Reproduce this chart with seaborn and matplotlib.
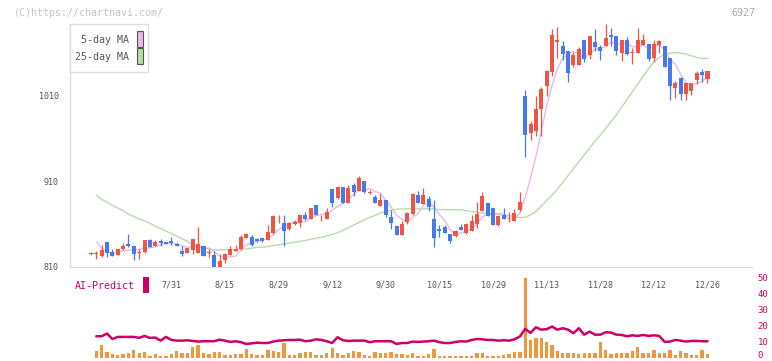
import numpy as np
import pandas as pd
import matplotlib
matplotlib.use("Agg")
import matplotlib.pyplot as plt
from matplotlib.patches import Rectangle
import seaborn as sns

# daily candles (one row per trading day)
opens = [
    825.5, 825, 823, 839, 828, 824, 831, 837, 834.5, 826,
    827, 841.6, 835, 840, 839.6, 840, 837, 829, 826.7, 830,
    826.7, 834.5, 826, 824, 810.4, 818, 824, 829, 831, 844,
    845.5, 843, 844, 842, 850, 868, 861, 854, 860, 862,
    871, 866, 882.5, 870.5, 866, 901.6, 890.7, 903.6, 885, 906.3,
    899.3, 910, 897, 892, 881.7, 888, 869, 857.9, 847.4, 862.2,
    872, 894.2, 883.7, 889.5, 866.1, 854.4, 857.2, 848.6, 846.6, 857.2,
    849.4, 852.5, 860.3, 875.5, 885.2, 879.4, 859.1, 870.8, 866.9, 864.2,
    876.7, 1010, 966.3, 969.5, 994.8, 1022, 1038.5, 1073.1, 1068.4, 1062.6,
    1046.6, 1046.6, 1075.5, 1058.3, 1073.1, 1067.3, 1068, 1081.3, 1080.1, 1060.6,
    1075.5, 1060, 1060.6, 1070, 1070.8, 1054.4, 1070, 1068.4, 1054.4, 1019.3,
    1031, 1012.7, 1016.2, 1029, 1038, 1030.2,
]
highs = [
    828, 829, 835.7, 839.5, 831, 831, 838, 849, 834.5, 830.7,
    841.6, 843, 842, 843, 839.6, 845, 837.5, 834.5, 832, 842.7,
    856.4, 834.5, 831, 829, 825, 826, 835, 836, 847, 850,
    847, 843.5, 844.5, 859, 871, 871, 871, 863, 865, 871,
    874.7, 879, 882.5, 871, 878.6, 901.6, 904.7, 903.6, 906.3, 907.9,
    916.8, 910.2, 900, 894, 895.4, 888, 876.7, 858, 863.8, 874.7,
    897, 898.9, 902.4, 893.4, 888.4, 859.1, 859.1, 848.6, 853.3, 860.3,
    861.1, 870.8, 886.4, 898.1, 885.2, 879.4, 870, 879.4, 874.7, 877.8,
    898.1, 1017, 980.8, 1010, 1021, 1040.4, 1088.4, 1090.7, 1073.9, 1062.6,
    1061.4, 1067, 1075.5, 1080.1, 1088.3, 1070, 1094, 1089.5, 1080.1, 1075.5,
    1079, 1066.1, 1089.5, 1082.5, 1070.8, 1075.5, 1075.5, 1068.4, 1054.4, 1027.1,
    1032.2, 1025.2, 1025.2, 1038.8, 1042, 1039.6,
]
lows = [
    824, 819, 822, 822, 822.5, 823.5, 830, 833.5, 818, 819,
    826, 833.5, 834, 834, 837, 836, 834, 823, 826.5, 825,
    826.5, 823, 822, 810.4, 810, 815, 824, 828.5, 830, 843.5,
    834, 839.5, 839, 841.6, 849, 861, 834, 853, 859, 857,
    865, 866, 871, 864, 866, 880.6, 890, 885, 885, 893,
    899, 897, 895.4, 885, 881.7, 869, 855, 847, 847.4, 860.3,
    870.8, 885, 883.7, 875.9, 833.8, 845.5, 849.4, 838.4, 844.7, 853,
    849, 852, 855.2, 875, 869.6, 859.1, 858.3, 865.8, 863, 864,
    876, 939, 958.5, 963.2, 963.2, 1010, 1033.4, 1054.4, 1052.5, 1026.3,
    1043.5, 1046.6, 1049.7, 1053.6, 1062.2, 1052.5, 1068, 1068, 1058.3, 1051.3,
    1058.3, 1047.4, 1060.6, 1070, 1050.5, 1049.7, 1060.6, 1043.9, 1004.9, 1007.6,
    1004.9, 1004.9, 1011.5, 1024.4, 1026.3, 1025,
]
closes = [
    826.5, 826.5, 830, 826, 823, 831, 834.5, 834, 825, 828,
    841.6, 833.7, 839.6, 838.5, 837, 837.5, 834, 825, 832, 842.7,
    837, 823, 827, 810.4, 817, 825, 830.7, 831, 845, 848.6,
    836, 840, 840, 851, 870, 868.5, 852, 862, 863, 871,
    866, 879, 871, 871, 874.7, 885, 903.6, 885, 902.4, 897.7,
    914, 897.3, 897.3, 885, 888, 871, 861, 847.8, 860.3, 873.6,
    895.4, 885.2, 894.2, 880.6, 844.3, 852.5, 850.2, 840.8, 852.5, 853.3,
    860.3, 863.8, 872, 893.1, 869.6, 859.1, 870, 865.8, 867.5, 873.6,
    886.4, 964.4, 976.9, 994.8, 1018.2, 1039.2, 1081.4, 1075.5, 1059.5, 1036.9,
    1057.9, 1064.9, 1053.6, 1080.1, 1066.9, 1062.2, 1077.8, 1079.4, 1063, 1075.5,
    1059.5, 1061.4, 1075.5, 1075.5, 1053.6, 1070.8, 1074.3, 1043.9, 1021.3, 1025.2,
    1012.7, 1025.2, 1025.2, 1036.9, 1035, 1039.6,
]

# these series begin on the second candle
ma5 = [
    839.6, 832, 828, 826.3, 827.3, 828.9, 829.7, 829.5, 830.5, 832.6,
    832.5, 833.6, 836.3, 838.1, 837.3, 837.3, 834.4, 833.1, 834.2, 834.1,
    831.9, 832.3, 828, 822.9, 820.5, 822, 822.8, 829.7, 836.1, 838.3,
    840.1, 841.9, 843.1, 847.4, 853.9, 856.3, 860.7, 863.1, 863.3, 862.8,
    868.2, 870, 871.6, 872.3, 876.1, 881.1, 883.9, 890.1, 894.7, 900.5,
    899.3, 901.7, 898.3, 896.3, 887.7, 880.5, 870.6, 865.6, 862.7, 867.6,
    872.5, 881.7, 885.8, 879.9, 871.4, 864.4, 853.7, 848, 849.9, 851.4,
    854.1, 860.4, 868.5, 871.8, 871.5, 872.8, 871.5, 866.4, 867.2, 872.7,
    891.5, 913.8, 939.2, 968.1, 998.7, 1022, 1041.8, 1054.8, 1058.5, 1062.2,
    1058.9, 1054.6, 1058.7, 1064.7, 1065.5, 1068.1, 1073.3, 1069.9, 1071.6, 1071,
    1067.8, 1067, 1069.5, 1065.1, 1067.4, 1069.9, 1063.6, 1052.8, 1047.1, 1035.5,
    1025.7, 1021.9, 1025, 1027, 1032.4,
]
ma25 = [
    894, 889, 886, 882, 879, 876, 872, 869, 866, 864,
    861, 858, 855, 852, 849, 846, 843, 840, 836, 834,
    832, 831, 830, 830, 830, 830, 830, 831, 831, 832,
    833, 833, 834, 835, 836, 837, 838, 839, 840, 841,
    842.5, 843.5, 845, 846.5, 848, 850, 853, 856, 859, 862,
    865, 868, 870.5, 873, 875, 876.5, 877.5, 878, 878, 878,
    878, 878, 878, 878, 877, 877, 877, 877, 877, 876,
    875, 874, 873, 873, 872, 871, 871, 870, 869, 868,
    868, 871, 875, 881, 888, 894, 901, 909, 917, 925,
    933, 941, 949, 957, 964, 972, 980, 988, 997, 1006,
    1015, 1024, 1033, 1042, 1050, 1055, 1059, 1060, 1061, 1060,
    1059, 1057, 1055, 1054, 1054,
]
ai_predict = [
    13.5, 13.5, 15.2, 11.8, 13.1, 13.1, 13.1, 13.1, 12.5, 13.7,
    12.5, 12.7, 10.8, 13.1, 11.2, 10.8, 10.8, 11.0, 10.6, 10.2,
    10.4, 10.4, 10.4, 11.4, 10.8, 10.0, 10.4, 9.8, 8.7, 9.1,
    9.5, 9.3, 9.3, 10.2, 10.8, 11.0, 11.2, 11.2, 11.4, 10.4,
    10.8, 11.6, 11.2, 10.4, 9.3, 12.9, 11.0, 10.6, 10.8, 10.8,
    10.8, 9.8, 10.4, 10.4, 10.4, 10.4, 8.7, 9.3, 9.3, 10.2,
    10.0, 10.2, 10.4, 10.8, 9.8, 9.3, 9.3, 10.0, 10.4, 10.2,
    11.2, 11.8, 11.6, 11.2, 11.2, 10.8, 11.0, 10.8, 11.6, 13.3,
    18.1, 15.6, 19.1, 17.6, 17.9, 19.5, 17.6, 18.5, 17.6, 15.4,
    18.5, 14.5, 16.4, 14.5, 14.5, 16.0, 15.8, 14.5, 14.3, 13.5,
    14.1, 13.7, 14.3, 13.7, 14.1, 13.7, 10.0, 10.2, 11.2, 10.8,
    10.2, 10.6, 10.6, 10.4, 10.4,
]
volume = [
    4.2, 8.1, 3.5, 2.5, 2.1, 2.5, 2.9, 5.0, 3.3, 3.7,
    1.5, 2.5, 1.2, 1.5, 2.5, 4.2, 2.9, 2.9, 6.6, 8.1,
    2.9, 2.5, 3.5, 3.5, 1.9, 1.9, 2.5, 2.5, 5.4, 2.5,
    1.9, 1.9, 5.0, 4.2, 3.5, 9.1, 1.9, 1.9, 2.9, 3.5,
    3.5, 1.9, 1.9, 2.9, 6.0, 2.9, 1.9, 3.3, 4.2, 3.5,
    1.9, 1.5, 3.5, 2.9, 2.9, 3.5, 2.7, 2.5, 2.1, 2.9,
    1.5, 1.5, 2.3, 5.4, 1.0, 1.0, 1.5, 1.0, 1.0, 1.0,
    1.0, 2.9, 2.9, 1.2, 1.2, 1.2, 1.9, 2.5, 3.5, 3.7,
    50, 11.2, 12.5, 12.5, 10.0, 8.1, 4.2, 2.9, 2.9, 2.9,
    2.5, 2.9, 2.9, 2.9, 10.0, 5.0, 2.5, 2.9, 2.9, 3.3,
    4.2, 6.9, 2.9, 2.9, 4.8, 2.9, 2.9, 4.8, 1.9, 4.2,
    2.9, 1.9, 1.9, 5.0, 2.5,
]

date_ticks = [15, 25, 35, 45, 55, 65, 75, 85, 95, 105, 115]
date_labels = ['7/31', '8/15', '8/29', '9/12', '9/30', '10/15',
               '10/29', '11/13', '11/28', '12/12', '12/26']
price_ticks = [810, 910, 1010]
ai_ticks = [0, 10, 20, 30, 40, 50]

RED = '#f05444'
BLUE = '#4579ee'
PINK = '#eab8ea'
GREEN = '#b8dcaa'
CRIMSON = '#cc0066'
ORANGE = '#f0963c'
AXIS = '#dddddd'
TEXT = '#555555'

W, H = 772, 361
sns.set_style('white')
plt.rcParams['font.family'] = ['DejaVu Sans Mono']

fig = plt.figure(figsize=(W / 100, H / 100), dpi=100)


def box(x0, y0, x1, y1):
    # pixel box -> figure fraction
    return [x0 / W, 1 - y1 / H, (x1 - x0) / W, (y1 - y0) / H]


ax = fig.add_axes(box(70, 24, 752, 267))
ax2 = fig.add_axes(box(70, 277.5, 752, 358))

df = pd.DataFrame({'open': opens, 'high': highs, 'low': lows, 'close': closes})
df['day'] = np.arange(len(df))
colors = np.where(df['close'] >= df['open'], RED, BLUE)

# moving averages
days = np.arange(1, len(df))
sns.lineplot(x=days, y=ma25, ax=ax, color=GREEN, linewidth=1, zorder=2)
sns.lineplot(x=days, y=ma5, ax=ax, color=PINK, linewidth=1, zorder=2)

# candles
ax.vlines(df['day'], df['low'], df['high'], colors=colors, linewidth=0.9, zorder=3)
body = (df['close'] - df['open']).abs().clip(lower=0.9)
ax.bar(df['day'], body, bottom=df[['open', 'close']].min(axis=1),
       width=0.75, color=colors, linewidth=0, zorder=4)

xlim = (-3.9, 123.3)
ax.set_xlim(xlim)
ax.set_ylim(810, 1094.2)
for side in ['top', 'right']:
    ax.spines[side].set_visible(False)
for side in ['left', 'bottom']:
    ax.spines[side].set_color(AXIS)
    ax.spines[side].set_linewidth(1)

ax.set_yticks(price_ticks)
ax.set_yticklabels([str(p) for p in price_ticks])
ax.tick_params(axis='y', length=5, width=0.8, color=AXIS, pad=3,
               labelsize=6, labelcolor=TEXT)
ax.set_xticks(date_ticks)
ax.set_xticklabels(date_labels)
ax.tick_params(axis='x', which='major', length=0, pad=10,
               labelsize=6, labelcolor=TEXT)
ax.set_xticks(np.linspace(xlim[0], xlim[1], 12)[1:], minor=True)
ax.tick_params(axis='x', which='minor', length=6, width=0.8,
               direction='inout', color=AXIS)
ax.set_xlabel('')
ax.set_ylabel('')

# lower panel: volume bars + AI-Predict line
ax2.bar(days, volume, width=0.62, color=ORANGE, linewidth=0, zorder=2)
sns.lineplot(x=days, y=ai_predict, ax=ax2, color=CRIMSON, linewidth=1.8, zorder=3)
ax2.set_xlim(xlim)
ax2.set_ylim(0, 50)
ax2.set_facecolor('none')
for s in ax2.spines.values():
    s.set_visible(False)
ax2.set_xticks([])
ax2.yaxis.tick_right()
ax2.set_yticks(ai_ticks)
ax2.set_yticklabels([str(t) for t in ai_ticks])
ax2.tick_params(axis='y', length=0, pad=4, labelsize=6.5, labelcolor=CRIMSON)
# keep the bottom "0" inside the canvas
ax2.get_yticklabels()[0].set_verticalalignment('baseline')
ax2.set_xlabel('')
ax2.set_ylabel('')

# header texts
fig.text(14 / W, 1 - 12.5 / H, '(C)https://chartnavi.com/', fontsize=7.2,
         color='#c4c4c4', ha='left', va='center')
fig.text(755 / W, 1 - 12.5 / H, '6927', fontsize=7.2, color='#aaaaaa',
         ha='right', va='center')

# legend box
fig.patches.append(Rectangle((70 / W, 1 - 72 / H), 78 / W, 48 / H,
                             transform=fig.transFigure, facecolor='white',
                             edgecolor=AXIS, linewidth=1, zorder=5))
for label, col, y0, y1, yt in [('5-day MA', PINK, 31, 47, 40),
                               ('25-day MA', GREEN, 48, 63.5, 56.5)]:
    fig.text(129 / W, 1 - yt / H, label, fontsize=7.2, color=TEXT,
             ha='right', va='center', zorder=6)
    fig.patches.append(Rectangle((136.5 / W, 1 - y1 / H), 6 / W, (y1 - y0) / H,
                                 transform=fig.transFigure, facecolor=col,
                                 edgecolor='#555555', linewidth=0.8, zorder=6))

# AI-Predict label
fig.text(75 / W, 1 - 286 / H, 'AI-Predict', fontsize=7.2, color=CRIMSON,
         ha='left', va='center')
fig.patches.append(Rectangle((142.5 / W, 1 - 293 / H), 6.5 / W, 16 / H,
                             transform=fig.transFigure, facecolor=CRIMSON,
                             edgecolor='none', zorder=6))

fig.savefig('out.png', dpi=100)
